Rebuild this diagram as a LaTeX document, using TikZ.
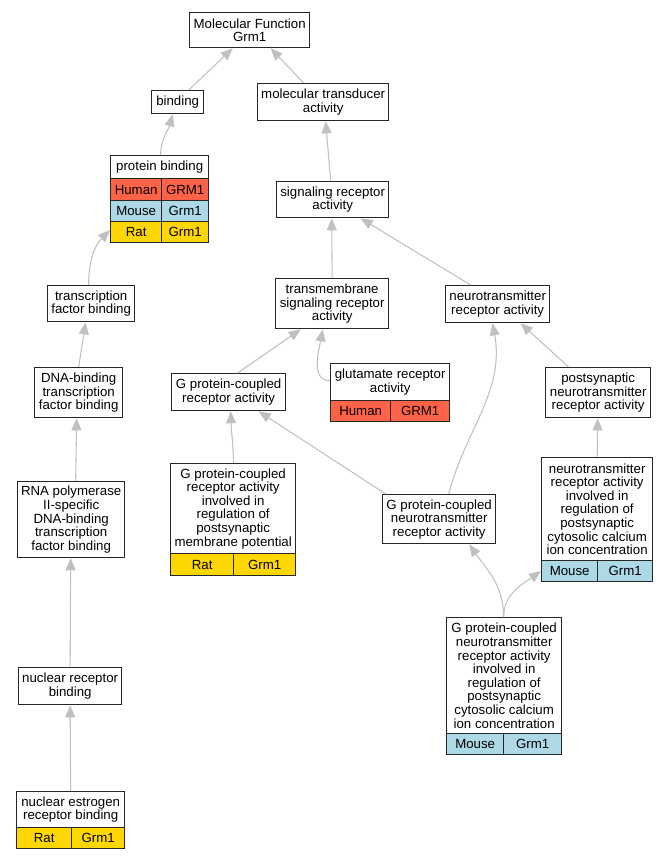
\documentclass[tikz,border=0pt]{standalone}
\usepackage{fontspec}
\setmainfont{Liberation Sans}
\usetikzlibrary{arrows.meta,calc}
\definecolor{edgegray}{HTML}{C0C0C0}
\definecolor{human}{HTML}{FF6347}
\definecolor{mouse}{HTML}{ADD8E6}
\definecolor{rat}{HTML}{FFD700}
\tikzset{
	term/.style={draw=black!85, line width=1pt, fill=white, align=center, inner sep=0pt, anchor=north west, font=\fontsize{9.95}{10.2}\selectfont},
	box/.style 2 args={minimum width=#1*0.75pt, minimum height=#2*0.75pt},
	isa/.style={draw=edgegray, line width=.8pt, -{Triangle[length=9pt,width=7.5pt]}},
}
\begin{document}
\begin{tikzpicture}[x=0.75pt,y=-0.75pt]
	\useasboundingbox (0,0) rectangle (667,859);
	% terms
	\node[term, box={120}{35}] (mf) at (189,12) {Molecular Function\\Grm1};
	\node[term, box={52}{23}] (bind) at (151,90) {binding};
	\node[term, box={131}{37}] (mta) at (257,83) {molecular transducer\\activity};
	\node[term, box={98}{23}] (pb) at (110,155) {protein binding};
	\node[term, box={51}{22}, fill=human] (pbH1) at (110,178) {Human};
	\node[term, box={47}{22}, fill=human] (pbH2) at (161,178) {GRM1};
	\node[term, box={51}{21}, fill=mouse] (pbM1) at (110,200) {Mouse};
	\node[term, box={47}{21}, fill=mouse] (pbM2) at (161,200) {Grm1};
	\node[term, box={51}{21}, fill=rat] (pbR1) at (110,221) {Rat};
	\node[term, box={47}{21}, fill=rat] (pbR2) at (161,221) {Grm1};
	\node[term, box={112}{36}] (sra) at (276,181) {signaling receptor\\activity};
	\node[term, box={87}{36}] (tfb) at (47,285) {transcription\\factor binding};
	\node[term, box={113}{50}] (tsra) at (275,278) {transmembrane\\signaling receptor\\activity};
	\node[term, box={104}{37}] (nra) at (445,285) {neurotransmitter\\receptor activity};
	\node[term, box={88}{50}] (dna) at (34,367) {DNA-binding\\transcription\\factor binding};
	\node[term, box={114}{37}] (gpcr) at (171,373) {G protein-coupled\\receptor activity};
	\node[term, box={119}{37}] (glu) at (330,363) {glutamate receptor\\activity};
	\node[term, box={60}{21}, fill=human] (gluH1) at (330,400) {Human};
	\node[term, box={59}{21}, fill=human] (gluH2) at (390,400) {GRM1};
	\node[term, box={105}{50}] (pnra) at (545,367) {postsynaptic\\neurotransmitter\\receptor activity};
	\node[term, box={107}{76}] (rna) at (17,481) {RNA polymerase\\II-specific\\DNA-binding\\transcription\\factor binding};
	\node[term, box={125}{90}] (gpmp) at (170,463) {G protein-coupled\\receptor activity\\involved in\\regulation of\\postsynaptic\\membrane potential};
	\node[term, box={63}{22}, fill=rat] (gpmpR1) at (170,553) {Rat};
	\node[term, box={62}{22}, fill=rat] (gpmpR2) at (233,553) {Grm1};
	\node[term, box={113}{49}] (gpnt) at (382,494) {G protein-coupled\\neurotransmitter\\receptor activity};
	\node[term, box={111}{103}] (ncc) at (541,457) {neurotransmitter\\receptor activity\\involved in\\regulation of\\postsynaptic\\cytosolic calcium\\ion concentration};
	\node[term, box={56}{21}, fill=mouse] (nccM1) at (541,560) {Mouse};
	\node[term, box={55}{21}, fill=mouse] (nccM2) at (597,560) {Grm1};
	\node[term, box={103}{37}] (nrb) at (18,667) {nuclear receptor\\binding};
	\node[term, box={115}{116}] (gpcc) at (446,617) {G protein-coupled\\neurotransmitter\\receptor activity\\involved in\\regulation of\\postsynaptic\\cytosolic calcium\\ion concentration};
	\node[term, box={57}{21}, fill=mouse] (gpccM1) at (446,733) {Mouse};
	\node[term, box={58}{21}, fill=mouse] (gpccM2) at (503,733) {Grm1};
	\node[term, box={108}{36}] (nerb) at (16,791) {nuclear estrogen\\receptor binding};
	\node[term, box={55}{21}, fill=rat] (nerbR1) at (16,827) {Rat};
	\node[term, box={53}{21}, fill=rat] (nerbR2) at (71,827) {Grm1};
	% is_a edges
	\draw[isa] ($(bind.north)+(11,0)$) -- ($(mf.south)+(-17,0)$);
	\draw[isa] ($(mta.north)+(-19.5,0)$) -- ($(mf.south)+(21,0)$);
	\draw[isa] ($(pb.north)+(1,0)$) to[out=90,in=-105] ($(bind.south)+(-5,0)$);
	\draw[isa] ($(sra.north)+(-2,0)$) -- ($(mta.south)+(2.5,0)$);
	\draw[isa] ($(tfb.north)+(-2.5,0)$) to[out=90,in=225] ($(pbR1.west)+(0,-2)$);
	\draw[isa] (tsra.north) -- ($(sra.south)+(-1,0)$);
	\draw[isa] ($(nra.north)+(-27,0)$) -- ($(sra.south)+(28,0)$);
	\draw[isa] (dna.north) -- ($(tfb.south)+(-5.5,0)$);
	\draw[isa] ($(gpcr.north)+(9,0)$) -- ($(tsra.south)+(-31.5,0)$);
	\draw[isa] ($(glu.west)+(0,-1.5)$) to[out=180,in=-100] ($(tsra.south)+(-9.5,0)$);
	\draw[isa] ($(pnra.north)+(-29.5,0)$) -- ($(nra.south)+(23,0)$);
	\draw[isa] ($(rna.north)+(4.5,0)$) -- ($(dna.south)+(-2,0)$);
	\draw[isa] ($(gpmp.north)+(0.5,0)$) to[out=92,in=-88] ($(gpcr.south)+(2,0)$);
	\draw[isa] ($(gpnt.north)+(-53.5,0)$) -- ($(gpcr.south)+(30,0)$);
	\draw[isa] ($(gpnt.north)+(9.5,0)$) to[out=75,in=-80] ($(nra.south)+(-5,0)$);
	\draw[isa] (ncc.north) -- ($(pnra.south)+(-0.5,0)$);
	\draw[isa] (nrb.north) -- ($(rna.south)+(-0.5,0)$);
	\draw[isa] ($(gpcc.north)+(-0.5,0)$) to[out=90,in=-55] ($(gpnt.south)+(30,0)$);
	\draw[isa] ($(gpcc.north)+(-0.5,0)$) to[out=90,in=215] (nccM1.west);
	\draw[isa] (nerb.north) -- (nrb.south);
\end{tikzpicture}
\end{document}
